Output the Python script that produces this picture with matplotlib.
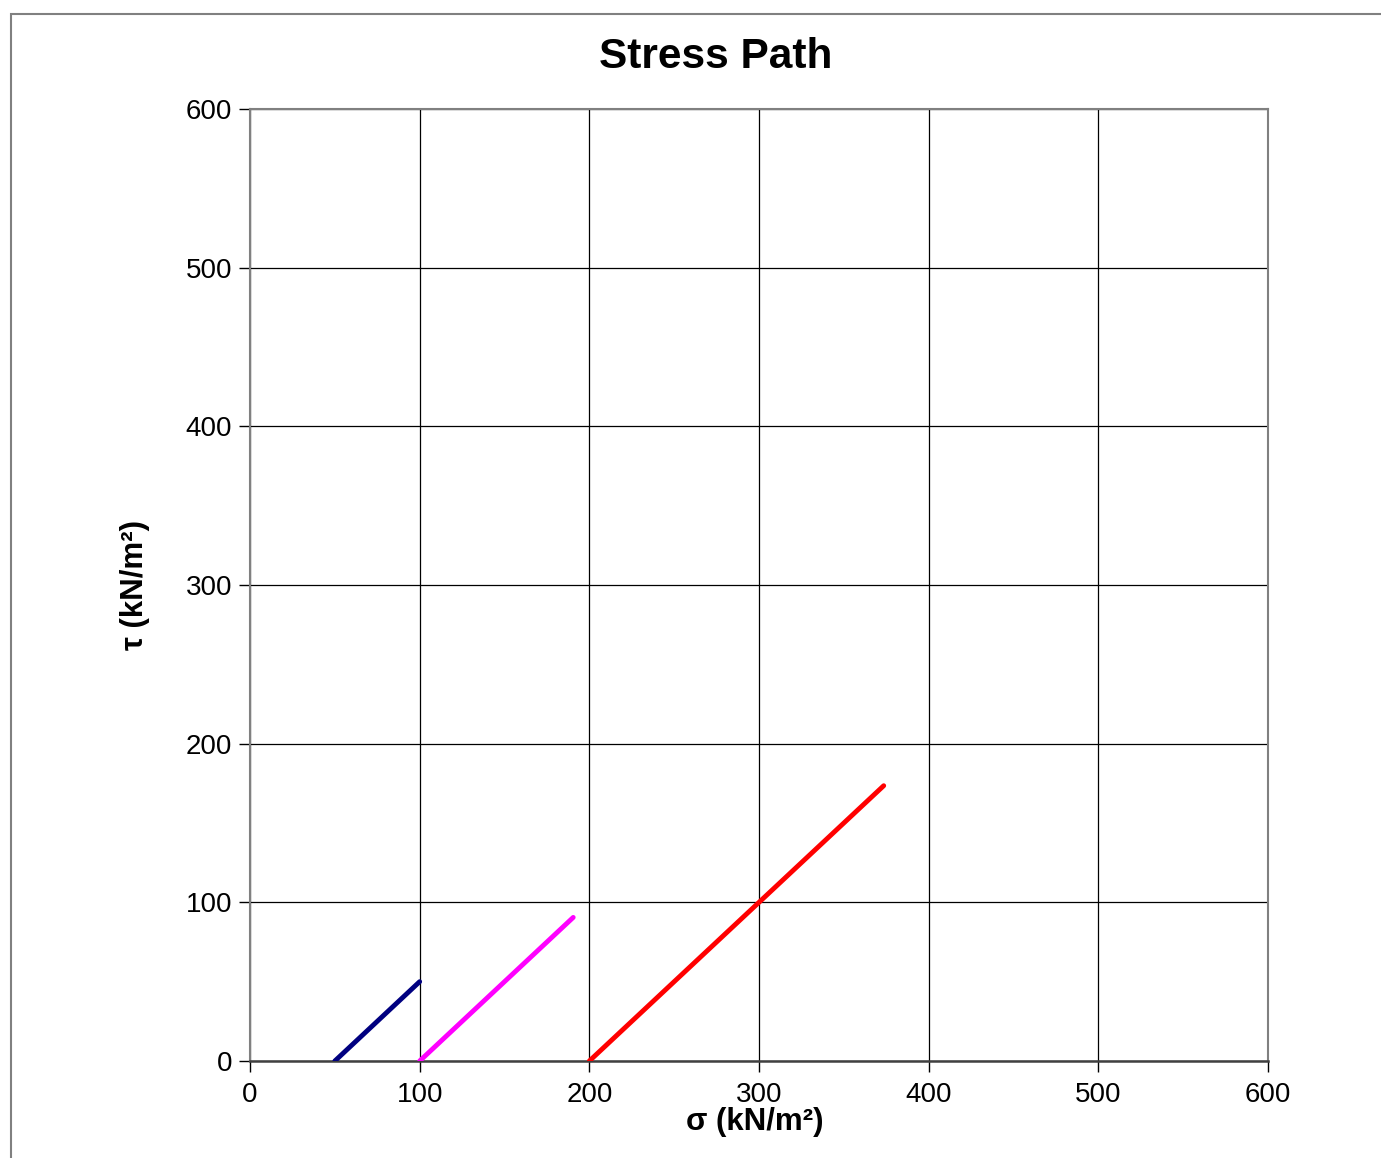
import matplotlib.pyplot as plt
from matplotlib.patches import Rectangle

plt.rcParams['font.family'] = ['Liberation Sans', 'DejaVu Sans']

# stress paths (sigma, tau) in kN/m2
sigma_1 = [50, 100]
tau_1 = [0, 50]
sigma_2 = [100, 190.5]
tau_2 = [0, 90.5]
sigma_3 = [200, 373.5]
tau_3 = [0, 173.5]

ticks = [0, 100, 200, 300, 400, 500, 600]

fig = plt.figure(figsize=(13.81, 11.58), dpi=100)
ax = fig.add_axes([250 / 1381, 1 - 1061 / 1158, 1018 / 1381, 952 / 1158])

ax.plot(sigma_1, tau_1, color='#000080', lw=3.5, solid_capstyle='round', zorder=3)
ax.plot(sigma_2, tau_2, color='#FF00FF', lw=3.5, solid_capstyle='round', zorder=3)
ax.plot(sigma_3, tau_3, color='#FF0000', lw=3.5, solid_capstyle='round', zorder=3)

ax.set_xlim(0, 600)
ax.set_ylim(0, 600)
ax.set_xticks(ticks)
ax.set_yticks(ticks)
ax.tick_params(direction='out', length=8, width=1, labelsize=20, pad=5, colors='black')
ax.tick_params(axis='x', pad=7)
ax.grid(True, color='black', lw=0.9)
for side in ['top', 'right', 'left']:
    ax.spines[side].set_color('#808080')
    ax.spines[side].set_linewidth(1.5)
ax.spines['bottom'].set_color('#404040')
ax.spines['bottom'].set_linewidth(1.8)

fig.text(755 / 1381, 1 - 1122 / 1158, 'σ (kN/m²)', ha='center', va='center',
         fontsize=22.5, fontweight='bold')
fig.text(135 / 1381, 1 - 585 / 1158, 'τ (kN/m²)', ha='center', va='center',
         fontsize=22.5, fontweight='bold', rotation=90)
fig.text(716 / 1381, 1 - 57 / 1158, 'Stress Path', ha='center', va='center',
         fontsize=30.5, fontweight='bold')

# outer chart frame
fig.patches.append(Rectangle((11 / 1381, -0.1), 1.2, 1 - 14 / 1158 + 0.1,
                             transform=fig.transFigure, fill=False,
                             edgecolor='#808080', lw=1.5))

fig.savefig('out.png', dpi=100)
